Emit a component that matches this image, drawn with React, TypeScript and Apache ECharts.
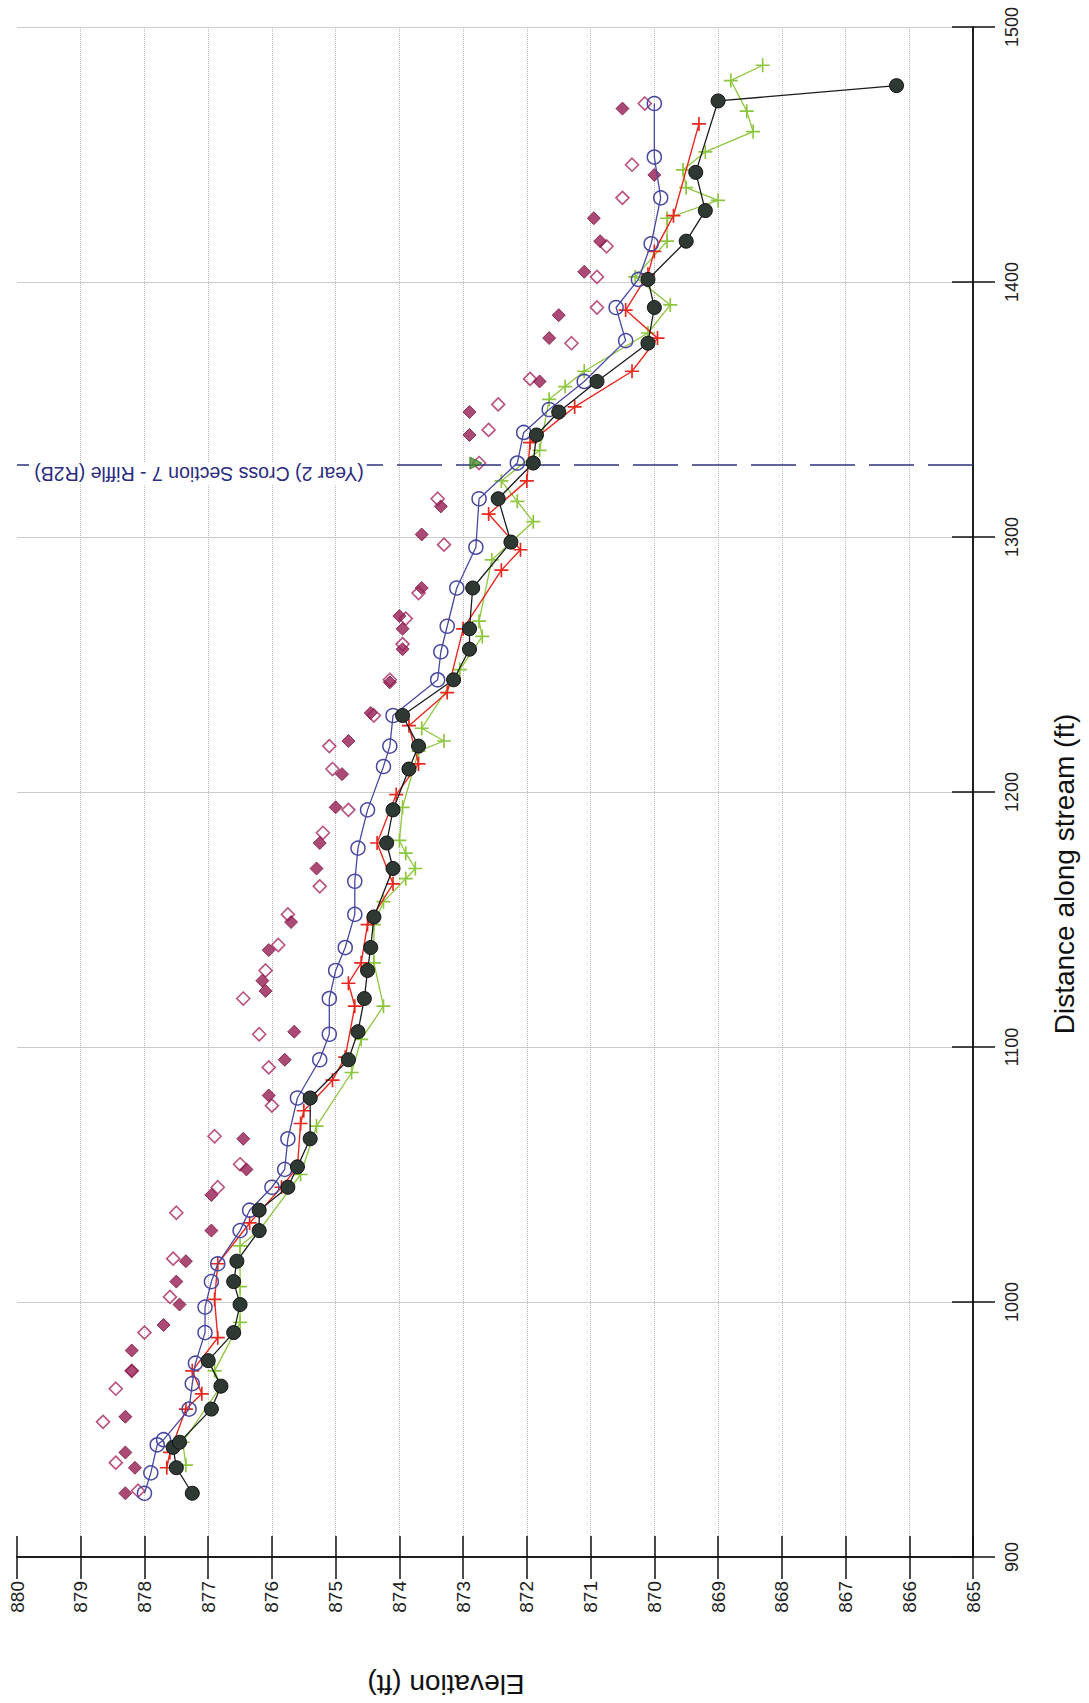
import React, { useEffect, useRef } from "react";
import * as echarts from "echarts";

// Distance along stream (ft) and elevation (ft) for each survey series
const blackDist = [925, 935, 943, 945, 958, 967, 977, 988, 999, 1008, 1016, 1028, 1036, 1045, 1053, 1064, 1080, 1095, 1106, 1119, 1130, 1139, 1151, 1170, 1180, 1193, 1209, 1218, 1230, 1244, 1256, 1264, 1280, 1298, 1315, 1329, 1340, 1349, 1361, 1376, 1390, 1401, 1416, 1428, 1443, 1471, 1477];
const blackElev = [877.25, 877.5, 877.55, 877.45, 876.95, 876.8, 877.0, 876.6, 876.5, 876.6, 876.55, 876.2, 876.2, 875.75, 875.6, 875.4, 875.4, 874.8, 874.65, 874.55, 874.5, 874.45, 874.4, 874.1, 874.2, 874.1, 873.85, 873.7, 873.95, 873.15, 872.9, 872.9, 872.85, 872.25, 872.45, 871.9, 871.85, 871.5, 870.9, 870.1, 870.0, 870.1, 869.5, 869.2, 869.35, 869.0, 866.2];

const blueDist = [925, 933, 944, 946, 958, 968, 976, 988, 998, 1008, 1015, 1028, 1036, 1045, 1052, 1064, 1080, 1095, 1105, 1119, 1130, 1139, 1152, 1165, 1178, 1193, 1210, 1218, 1230, 1244, 1255, 1265, 1280, 1296, 1315, 1329, 1341, 1350, 1361, 1377, 1390, 1401, 1415, 1433, 1449, 1470];
const blueElev = [878.0, 877.9, 877.8, 877.7, 877.3, 877.25, 877.2, 877.05, 877.05, 876.95, 876.85, 876.5, 876.35, 876.0, 875.8, 875.75, 875.6, 875.25, 875.1, 875.1, 875.0, 874.85, 874.7, 874.7, 874.65, 874.5, 874.25, 874.15, 874.1, 873.4, 873.35, 873.25, 873.1, 872.8, 872.75, 872.15, 872.05, 871.65, 871.1, 870.45, 870.6, 870.25, 870.05, 869.9, 870.0, 870.0];

const redDist = [935, 941, 958, 964, 973, 986, 1001, 1015, 1031, 1045, 1053, 1070, 1075, 1087, 1096, 1116, 1125, 1133, 1148, 1164, 1180, 1199, 1211, 1226, 1239, 1264, 1287, 1295, 1309, 1322, 1337, 1351, 1365, 1378, 1389, 1403, 1412, 1426, 1462];
const redElev = [877.65, 877.6, 877.35, 877.1, 877.25, 876.85, 876.9, 876.85, 876.35, 875.85, 875.6, 875.55, 875.5, 875.05, 874.85, 874.7, 874.8, 874.6, 874.5, 874.1, 874.35, 874.05, 873.7, 873.85, 873.25, 873.0, 872.4, 872.1, 872.6, 872.0, 871.95, 871.25, 870.35, 869.95, 870.45, 870.1, 870.0, 869.7, 869.3];

const greenDist = [936, 945, 967, 973, 992, 1006, 1022, 1028, 1050, 1069, 1090, 1103, 1116, 1133, 1148, 1157, 1166, 1170, 1176, 1181, 1194, 1216, 1220, 1225, 1248, 1261, 1267, 1291, 1306, 1314, 1322, 1334, 1354, 1359, 1365, 1380, 1391, 1402, 1416, 1425, 1432, 1437, 1444, 1451, 1459, 1467, 1479, 1485];
const greenElev = [877.35, 877.4, 876.8, 876.9, 876.5, 876.5, 876.5, 876.2, 875.55, 875.3, 874.75, 874.6, 874.25, 874.4, 874.4, 874.25, 873.9, 873.75, 873.9, 874.0, 873.95, 873.7, 873.3, 873.65, 873.05, 872.7, 872.75, 872.55, 871.9, 872.15, 872.4, 871.8, 871.65, 871.4, 871.1, 870.1, 869.75, 870.3, 869.8, 869.8, 869.0, 869.5, 869.55, 869.2, 868.45, 868.55, 868.8, 868.3];

const filledDiamondDist = [925, 935, 941, 955, 973, 981, 991, 999, 1008, 1016, 1028, 1042, 1052, 1064, 1081, 1095, 1106, 1122, 1126, 1138, 1149, 1170, 1180, 1194, 1207, 1220, 1231, 1243, 1256, 1264, 1269, 1280, 1301, 1312, 1340, 1349, 1361, 1378, 1387, 1404, 1416, 1425, 1442, 1468];
const filledDiamondElev = [878.3, 878.15, 878.3, 878.3, 878.2, 878.2, 877.7, 877.45, 877.5, 877.35, 876.95, 876.95, 876.4, 876.45, 876.05, 875.8, 875.65, 876.1, 876.15, 876.05, 875.7, 875.3, 875.25, 875.0, 874.9, 874.8, 874.45, 874.15, 873.95, 873.95, 874.0, 873.65, 873.65, 873.35, 872.9, 872.9, 871.8, 871.65, 871.5, 871.1, 870.85, 870.95, 870.0, 870.5];

const openDiamondDist = [926, 937, 953, 966, 973, 988, 1002, 1017, 1035, 1045, 1054, 1065, 1077, 1092, 1105, 1119, 1130, 1140, 1152, 1163, 1184, 1193, 1209, 1218, 1230, 1244, 1258, 1268, 1278, 1297, 1315, 1329, 1342, 1352, 1362, 1376, 1390, 1402, 1414, 1433, 1446, 1470];
const openDiamondElev = [878.1, 878.45, 878.65, 878.45, 878.2, 878.0, 877.6, 877.55, 877.5, 876.85, 876.5, 876.9, 876.0, 876.05, 876.2, 876.45, 876.1, 875.9, 875.75, 875.25, 875.2, 874.8, 875.05, 875.1, 874.4, 874.15, 873.95, 873.9, 873.7, 873.3, 873.4, 872.75, 872.6, 872.45, 871.95, 871.3, 870.9, 870.9, 870.75, 870.5, 870.35, 870.15];

const triangleDist = [1329];
const triangleElev = [872.8];

const crossSectionDist = 1328.5;
const crossSectionLabel = "(Year 2) Cross Section 7 - Riffle (R2B)";
const distanceTitle = "Distance along stream (ft)";
const elevationTitle = "Elevation (ft)";

const zip = (d: number[], e: number[]) => d.map((v, i) => [e[i], v]);

const FONT = "'Liberation Sans', Arial, Helvetica, sans-serif";
const PLUS = "path://M0,4.4H4.4V0H5.6V4.4H10V5.6H5.6V10H4.4V5.6H0Z";

export default function App() {
  const ref = useRef<HTMLDivElement>(null);
  useEffect(() => {
    if (!ref.current) return;
    const chart = echarts.init(ref.current, undefined, { renderer: "svg" });
    const xBase = {
      type: "value",
      min: 865,
      max: 880,
      interval: 1,
      inverse: true,
      position: "bottom",
    };
    const yBase = {
      type: "value",
      min: 900,
      max: 1500,
      interval: 100,
      position: "right",
    };
    chart.setOption({
      animation: false,
      backgroundColor: "#ffffff",
      grid: { left: 17, right: 116, top: 27, bottom: 146, containLabel: false },
      xAxis: [
        {
          ...xBase,
          axisLine: { show: true, onZero: false, lineStyle: { color: "#111", width: 1.5 } },
          axisTick: { show: true, length: 22, lineStyle: { color: "#111", width: 1.5 } },
          axisLabel: {
            rotate: 90,
            margin: 24,
            fontSize: 19,
            color: "#222",
            fontFamily: FONT,
            formatter: (v: number) => String(v),
          },
          splitLine: {
            show: true,
            showMinLine: false,
            showMaxLine: false,
            lineStyle: { color: "#bcbcbc", type: "dotted", width: 1 },
          },
        },
        {
          ...xBase,
          axisLine: { show: true, onZero: false, lineStyle: { color: "#111", width: 1.5 } },
          axisTick: { show: true, inside: true, length: 21, lineStyle: { color: "#111", width: 1.5 } },
          axisLabel: { show: false },
          splitLine: { show: false },
        },
      ],
      yAxis: [
        {
          ...yBase,
          axisLine: { show: true, onZero: false, lineStyle: { color: "#111", width: 1.5 } },
          axisTick: { show: true, length: 22, lineStyle: { color: "#111", width: 1.5 } },
          axisLabel: {
            rotate: 90,
            margin: 30,
            fontSize: 18,
            color: "#222",
            fontFamily: FONT,
            formatter: (v: number) => String(v),
          },
          splitLine: {
            show: true,
            showMinLine: false,
            lineStyle: { color: "#cccccc", width: 1 },
          },
        },
        {
          ...yBase,
          axisLine: { show: true, onZero: false, lineStyle: { color: "#111", width: 1.5 } },
          axisTick: { show: true, inside: true, length: 21, lineStyle: { color: "#111", width: 1.5 } },
          axisLabel: { show: false },
          splitLine: { show: false },
        },
      ],
      series: [
        {
          name: "Open diamonds",
          type: "scatter",
          data: zip(openDiamondDist, openDiamondElev),
          symbol: "diamond",
          symbolSize: 13,
          itemStyle: { color: "rgba(255,255,255,0)", borderColor: "#a8245f", borderWidth: 1.6 },
          z: 2,
        },
        {
          name: "Filled diamonds",
          type: "scatter",
          data: zip(filledDiamondDist, filledDiamondElev),
          symbol: "diamond",
          symbolSize: 13,
          itemStyle: { color: "#961d52", borderColor: "#7a1542", borderWidth: 1 },
          z: 3,
        },
        {
          name: "Green",
          type: "line",
          data: zip(greenDist, greenElev),
          symbol: PLUS,
          symbolSize: 14,
          showAllSymbol: true,
          lineStyle: { color: "#8dc63f", width: 1.3 },
          itemStyle: { color: "#8dc63f" },
          z: 4,
        },
        {
          name: "Red",
          type: "line",
          data: zip(redDist, redElev),
          symbol: PLUS,
          symbolSize: 14,
          showAllSymbol: true,
          lineStyle: { color: "#e8281e", width: 1.4 },
          itemStyle: { color: "#e8281e" },
          z: 5,
        },
        {
          name: "Blue",
          type: "line",
          data: zip(blueDist, blueElev),
          symbol: "circle",
          symbolSize: 14,
          showAllSymbol: true,
          lineStyle: { color: "#4848a2", width: 1.3 },
          itemStyle: { color: "rgba(255,255,255,0)", borderColor: "#4848a2", borderWidth: 1.5 },
          z: 6,
        },
        {
          name: "Black",
          type: "line",
          data: zip(blackDist, blackElev),
          symbol: "circle",
          symbolSize: 14,
          showAllSymbol: true,
          lineStyle: { color: "#1c1c1c", width: 1.3 },
          itemStyle: { color: "#2f3934", borderColor: "#111", borderWidth: 1 },
          z: 7,
        },
        {
          name: "Water surface",
          type: "scatter",
          data: zip(triangleDist, triangleElev),
          symbol: "triangle",
          symbolRotate: -90,
          symbolSize: 12,
          itemStyle: { color: "#4a8f2c", borderColor: "#2f6a1c", borderWidth: 1 },
          z: 8,
          markLine: {
            silent: true,
            symbol: ["none", "none"],
            label: { show: false },
            lineStyle: { color: "#30307f", width: 1.5, type: [45, 14] },
            data: [{ yAxis: crossSectionDist }],
          },
        },
      ],
      graphic: [
        {
          type: "text",
          x: 199,
          y: 474,
          rotation: Math.PI,
          z: 100,
          style: {
            text: crossSectionLabel,
            font: "19.5px " + FONT,
            fill: "#2c2c80",
            align: "center",
            verticalAlign: "middle",
            textAlign: "center",
            textVerticalAlign: "middle",
            backgroundColor: "#ffffff",
            padding: [1, 3],
          },
        },
        {
          type: "text",
          x: 1064,
          y: 874,
          rotation: Math.PI / 2,
          style: {
            text: distanceTitle,
            font: "28px " + FONT,
            fill: "#111",
            align: "center",
            verticalAlign: "middle",
            textAlign: "center",
            textVerticalAlign: "middle",
          },
        },
        {
          type: "text",
          x: 446,
          y: 1684,
          rotation: Math.PI,
          style: {
            text: elevationTitle,
            font: "28px " + FONT,
            fill: "#111",
            align: "center",
            verticalAlign: "middle",
            textAlign: "center",
            textVerticalAlign: "middle",
          },
        },
      ],
    });
    return () => chart.dispose();
  }, []);
  return (
    <div
      ref={ref}
      style={{ position: "absolute", left: 0, top: 0, width: 1089, height: 1703 }}
    />
  );
}
